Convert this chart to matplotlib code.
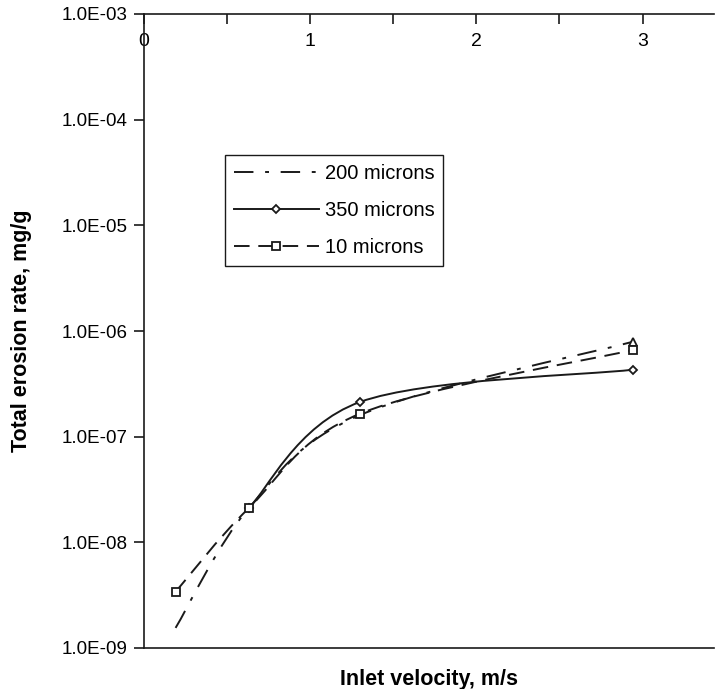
import numpy as np
import matplotlib
matplotlib.use('Agg')
import matplotlib.pyplot as plt
from matplotlib.path import Path
from matplotlib.patches import PathPatch
from matplotlib.lines import Line2D
from matplotlib.ticker import FixedLocator, MultipleLocator, NullLocator

plt.rcParams['font.family'] = ['Liberation Sans', 'DejaVu Sans']

# data
vel_200 = [0.19, 0.63, 1.30, 2.94]
rate_200 = [1.55e-9, 2.1e-8, 1.6e-7, 7.9e-7]
vel_350 = [0.63, 1.30, 2.94]
rate_350 = [2.1e-8, 2.13e-7, 4.3e-7]
vel_10 = [0.19, 0.63, 1.30, 2.94]
rate_10 = [3.4e-9, 2.1e-8, 1.65e-7, 6.6e-7]

y_ticks = [1e-9, 1e-8, 1e-7, 1e-6, 1e-5, 1e-4, 1e-3]
y_labels = ['1.0E-09', '1.0E-08', '1.0E-07', '1.0E-06', '1.0E-05', '1.0E-04', '1.0E-03']
x_ticks = [0, 1, 2, 3]


def smooth_path(xs, ys):
    # excel style smoothed line: bezier segments, drawn on the log axis
    lx = np.array(xs, float)
    ly = np.log10(np.array(ys, float))
    n = len(lx)
    verts = [(lx[0], ly[0])]
    codes = [Path.MOVETO]
    for i in range(n - 1):
        a = max(i - 1, 0)
        b = min(i + 2, n - 1)
        c1 = (lx[i] + (lx[i + 1] - lx[a]) / 6, ly[i] + (ly[i + 1] - ly[a]) / 6)
        c2 = (lx[i + 1] - (lx[b] - lx[i]) / 6, ly[i + 1] - (ly[b] - ly[i]) / 6)
        verts += [c1, c2, (lx[i + 1], ly[i + 1])]
        codes += [Path.CURVE4] * 3
    verts = np.array(verts)
    verts[:, 1] = 10 ** verts[:, 1]
    return Path(verts, codes)


fig = plt.figure(figsize=(7.15, 6.89), dpi=100)
ax = fig.add_axes([144 / 715, 1 - 648 / 689, 570 / 715, 634 / 689])
ax.set_yscale('log')
ax.set_xlim(0, 3.43)
ax.set_ylim(1e-9, 1e-3)

lw = 1.4
dashdot = (0, (10, 6, 2, 6))
longdash = (0, (8, 4.5))

ax.add_patch(PathPatch(smooth_path(vel_200, rate_200), fill=False, lw=lw,
                       linestyle=dashdot, edgecolor='#1a1a1a', zorder=2))
ax.add_patch(PathPatch(smooth_path(vel_350, rate_350), fill=False, lw=lw,
                       linestyle='-', edgecolor='#1a1a1a', zorder=3))
ax.add_patch(PathPatch(smooth_path(vel_10, rate_10), fill=False, lw=lw,
                       linestyle=longdash, edgecolor='#1a1a1a', zorder=4))

ax.plot(vel_200[-1:], rate_200[-1:], ls='none', marker='^', ms=6, mfc='white',
        mec='#1a1a1a', mew=1.3, zorder=5)
ax.plot(vel_350, rate_350, ls='none', marker='D', ms=4.3, mfc='white',
        mec='#1a1a1a', mew=1.3, zorder=6)
ax.plot(vel_10, rate_10, ls='none', marker='s', ms=5.8, mfc='white',
        mec='#1a1a1a', mew=1.3, zorder=7)

# axes styling
for s in ['top', 'left', 'bottom']:
    ax.spines[s].set_linewidth(1.2)
    ax.spines[s].set_color('#1a1a1a')
ax.spines['right'].set_visible(False)

ax.yaxis.set_major_locator(FixedLocator(y_ticks))
ax.yaxis.set_minor_locator(NullLocator())
ax.set_yticklabels(y_labels)
ax.tick_params(axis='y', direction='out', length=7, width=1.2, labelsize=13.5,
               pad=5, color='#1a1a1a')

ax.set_xticks(x_ticks)
ax.xaxis.set_minor_locator(MultipleLocator(0.5))
ax.tick_params(axis='x', which='both', top=True, bottom=False, labeltop=True,
               labelbottom=False, direction='in', length=7, width=1.2,
               color='#1a1a1a')
ax.tick_params(axis='x', which='major', labelsize=14, pad=-26)

leg_handles = [
    Line2D([], [], color='#1a1a1a', lw=lw, linestyle=dashdot),
    Line2D([], [], color='#1a1a1a', lw=lw, linestyle='-', marker='D', ms=4.3,
           mfc='white', mec='#1a1a1a', mew=1.3),
    Line2D([], [], color='#1a1a1a', lw=lw, linestyle=longdash, marker='s', ms=5.8,
           mfc='white', mec='#1a1a1a', mew=1.3),
]
leg = ax.legend(leg_handles, ['200 microns', '350 microns', '10 microns'],
                loc='upper left', bbox_to_anchor=(0.142, 0.778), borderaxespad=0,
                fontsize=14.5, handlelength=4.2, handletextpad=0.3,
                labelspacing=0.9, borderpad=0.45, numpoints=1,
                fancybox=False, framealpha=1, edgecolor='#1a1a1a')
leg.get_frame().set_linewidth(1.0)

fig.text(22 / 715, 1 - 331 / 689, 'Total erosion rate, mg/g', rotation=90,
         ha='center', va='center', fontsize=15.5, fontweight='bold')
fig.text(429 / 715, 1 - 685 / 689, 'Inlet velocity, m/s', ha='center',
         va='baseline', fontsize=15.5, fontweight='bold')

fig.savefig('out.png', dpi=100)
